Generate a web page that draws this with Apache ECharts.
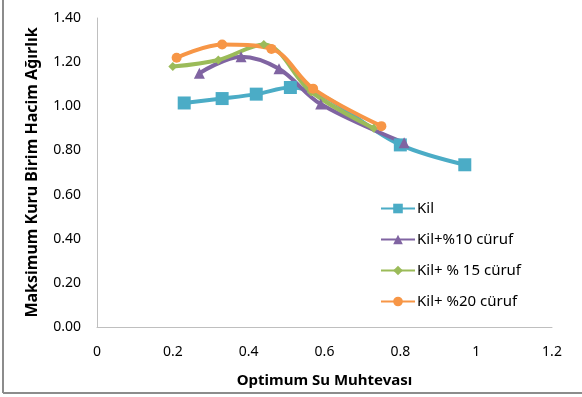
<!DOCTYPE html>
<html>
<head>
<meta charset="utf-8">
<script src="https://cdn.jsdelivr.net/npm/echarts@6/dist/echarts.min.js"></script>
<style>
  html, body { margin: 0; padding: 0; background: #fff; }
  #chart { width: 582px; height: 397px; }
</style>
</head>
<body>
<div id="chart"></div>
<script>
// values
const kilX = [0.23, 0.33, 0.42, 0.51, 0.80, 0.97];
const kilY = [1.015, 1.035, 1.055, 1.085, 0.825, 0.735];
const kil10X = [0.27, 0.38, 0.48, 0.59, 0.81];
const kil10Y = [1.15, 1.225, 1.17, 1.01, 0.835];
const kil15X = [0.20, 0.32, 0.44, 0.565, 0.73];
const kil15Y = [1.18, 1.21, 1.28, 1.065, 0.90];
const kil20X = [0.21, 0.33, 0.46, 0.57, 0.75];
const kil20Y = [1.22, 1.28, 1.26, 1.08, 0.91];
const seriesNames = ['Kil', 'Kil+%10 cüruf', 'Kil+ % 15 cüruf', 'Kil+ %20 cüruf'];

const pairs = (xs, ys) => xs.map((x, i) => [x, ys[i]]);
const font = '"Noto Sans", sans-serif';

function lineSeries(name, data, color, symbol, size) {
    return {
        name: name,
        type: 'line',
        smooth: 0.35,
        symbol: symbol,
        symbolSize: size,
        data: data,
        lineStyle: { color: color, width: 4 },
        itemStyle: { color: color }
    };
}

const chart = echarts.init(document.getElementById('chart'), null, { renderer: 'canvas' });
chart.setOption({
    animation: false,
    textStyle: { fontFamily: font },
    grid: { left: 97, right: 30, top: 18, bottom: 70 },
    legend: {
        orient: 'vertical',
        left: 375,
        top: 196,
        itemWidth: 34,
        itemHeight: 12,
        itemGap: 16,
        textStyle: { fontSize: 15, color: '#000', fontFamily: font, padding: [0, 0, 0, -3] },
        data: seriesNames
    },
    xAxis: {
        type: 'value',
        min: 0, max: 1.2, interval: 0.2,
        name: 'Optimum Su Muhtevası',
        nameLocation: 'middle',
        nameGap: 46,
        nameTextStyle: { fontSize: 15, fontWeight: 'bold', color: '#000' },
        axisLine: { show: true, lineStyle: { color: '#bfbfbf', width: 1 } },
        axisTick: { show: false },
        splitLine: { show: false },
        axisLabel: { fontSize: 14, color: '#000', margin: 18, formatter: v => String(+v.toFixed(1)) }
    },
    yAxis: {
        type: 'value',
        min: 0, max: 1.4, interval: 0.2,
        name: 'Maksimum Kuru Birim Hacim Ağırlık',
        nameLocation: 'middle',
        nameGap: 57,
        nameTextStyle: { fontSize: 16, fontWeight: 'bold', color: '#000' },
        axisLine: { show: true, lineStyle: { color: '#bfbfbf', width: 1 } },
        axisTick: { show: false },
        splitLine: { show: false },
        axisLabel: { fontSize: 14, color: '#000', margin: 16, formatter: v => v.toFixed(2) }
    },
    graphic: [
        { type: 'line', shape: { x1: 3, y1: 0, x2: 3, y2: 393 }, style: { stroke: '#8c8c8c', lineWidth: 2 } },
        { type: 'line', shape: { x1: 3, y1: 393, x2: 582, y2: 393 }, style: { stroke: '#8c8c8c', lineWidth: 2 } }
    ],
    series: [
        lineSeries(seriesNames[0], pairs(kilX, kilY), '#4BACC6', 'rect', 13),
        lineSeries(seriesNames[1], pairs(kil10X, kil10Y), '#8064A2', 'triangle', 11),
        lineSeries(seriesNames[2], pairs(kil15X, kil15Y), '#9BBB59', 'diamond', 9),
        lineSeries(seriesNames[3], pairs(kil20X, kil20Y), '#F79646', 'circle', 10)
    ]
});
</script>
</body>
</html>
